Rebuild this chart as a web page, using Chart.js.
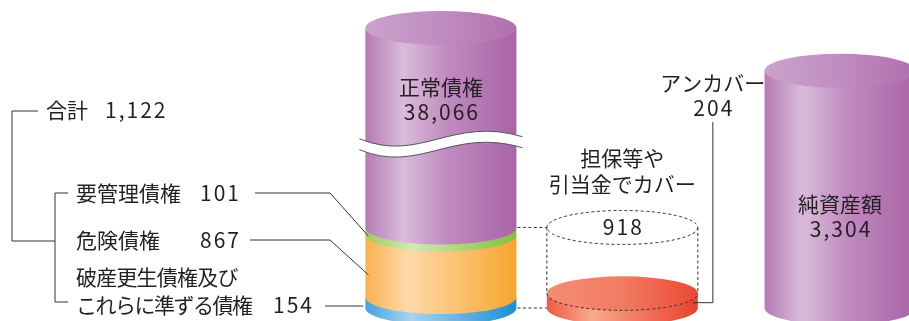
<!DOCTYPE html>
<html lang="ja">
<head>
<meta charset="utf-8">
<script src="https://cdn.jsdelivr.net/npm/chart.js@4.4.1/dist/chart.umd.min.js"></script>
<style>
  html, body { margin: 0; padding: 0; background: #fff; }
  #wrap { width: 909px; height: 321px; }
</style>
</head>
<body>
<div id="wrap"><canvas id="myChart"></canvas></div>
<script>
// 債権の区分（下から積み上げ）
const loanLabels = ['破産更生債権及び\nこれらに準ずる債権', '危険債権', '要管理債権', '正常債権']
const loanValues = [154, 867, 101, 38066]
// 問題債権のカバー状況（下から）
const coverLabels = ['アンカバー', '担保等や\n引当金でカバー']
const coverValues = [204, 918]
// 純資産
const netLabels = ['純資産額']
const netValues = [3304]
const totalLabel = '合計'

// layout
const colX = [0, 5, 11]     // column positions on the x scale
const yMax = 3900           // top of the shown range, the big bar is cut with a break
const RY = 17               // ellipse half height of the cylinders
const FONT = '"Noto Sans CJK JP", "Noto Sans", sans-serif'
const fmt = v => v.toLocaleString('en-US')

const looks = {
  blue:   { body: [[0, '#45a2dc'], [0.3, '#aad3f0'], [1, '#1890d2']] },
  orange: { body: [[0, '#f9b24f'], [0.28, '#fdd9aa'], [0.6, '#fbc373'], [1, '#f6a52e']] },
  green:  { body: [[0, '#9ccc5a'], [0.3, '#d4e8b4'], [1, '#84c13a']] },
  purple: { body: [[0, '#b67ab5'], [0.25, '#d9bcd9'], [0.55, '#c08ac0'], [1, '#a964a7']],
            cap:  [[0, '#caa3ca'], [0.5, '#c08cc0'], [1, '#b070ae']] },
  red:    { body: [[0, '#ee5a44'], [0.3, '#f8a98f'], [0.6, '#f27a62'], [1, '#e8412f']],
            cap:  [[0, '#f48d74'], [0.5, '#f27b62'], [1, '#ec4835']] }
}

const otherLoans = loanValues.slice(0, 3).reduce((a, b) => a + b, 0)
const shownLoan = (v, i) => i === loanValues.length - 1 ? Math.min(v, yMax - otherLoans) : v
const loanLooks = ['blue', 'orange', 'green', 'purple']

const datasets = []
loanValues.forEach((v, i) => datasets.push({
  label: loanLabels[i], data: [{ x: colX[0], y: shownLoan(v, i) }],
  look: loanLooks[i], cap: i === loanValues.length - 1, broken: i === loanValues.length - 1
}))
coverValues.forEach((v, i) => datasets.push({
  label: coverLabels[i], data: [{ x: colX[1], y: v }],
  look: i === 0 ? 'red' : 'dashed', cap: i === 0
}))
netValues.forEach((v, i) => datasets.push({
  label: netLabels[i], data: [{ x: colX[2], y: v }], look: 'purple', cap: true
}))

function grad(ctx, l, r, stops) {
  const g = ctx.createLinearGradient(l, 0, r, 0)
  stops.forEach(s => g.addColorStop(s[0], s[1]))
  return g
}

function drawBody(ctx, b, stops) {
  const l = b.x - b.width / 2, r = b.x + b.width / 2
  ctx.beginPath()
  ctx.moveTo(l, b.y)
  ctx.lineTo(l, b.base)
  ctx.ellipse(b.x, b.base, b.width / 2, RY, 0, Math.PI, 0, true)
  ctx.lineTo(r, b.y)
  ctx.closePath()
  ctx.fillStyle = grad(ctx, l, r, stops)
  ctx.fill()
}

function drawCap(ctx, b, stops) {
  const l = b.x - b.width / 2, r = b.x + b.width / 2
  ctx.beginPath()
  ctx.ellipse(b.x, b.y, b.width / 2, RY, 0, 0, Math.PI * 2)
  ctx.fillStyle = grad(ctx, l, r, stops)
  ctx.fill()
}

function drawDashed(ctx, b) {
  const l = b.x - b.width / 2, r = b.x + b.width / 2
  ctx.save()
  ctx.setLineDash([3, 2.5])
  ctx.strokeStyle = '#333'
  ctx.lineWidth = 1
  ctx.beginPath()
  ctx.ellipse(b.x, b.y, b.width / 2, RY, 0, 0, Math.PI * 2)
  ctx.stroke()
  ctx.beginPath()
  ctx.moveTo(l, b.y); ctx.lineTo(l, b.base)
  ctx.moveTo(r, b.y); ctx.lineTo(r, b.base)
  ctx.stroke()
  ctx.beginPath()
  ctx.ellipse(b.x, b.base, b.width / 2, RY, 0, Math.PI, 0, true)
  ctx.stroke()
  ctx.restore()
}

function drawBreak(ctx, b) {
  const l = b.x - b.width / 2 - 6, r = b.x + b.width / 2 + 6
  const c = b.y + (b.base - b.y) * 0.57
  const h = 11
  ctx.beginPath()
  ctx.moveTo(l, c - 3)
  ctx.bezierCurveTo(l + 60, c + 22, r - 70, c - 26, r, c - 5)
  ctx.lineTo(r, c - 5 + h)
  ctx.bezierCurveTo(r - 70, c - 26 + h, l + 60, c + 22 + h, l, c - 3 + h)
  ctx.closePath()
  ctx.fillStyle = '#fff'
  ctx.fill()
  ctx.strokeStyle = '#555'
  ctx.lineWidth = 1
  ctx.beginPath()
  ctx.moveTo(l, c - 3)
  ctx.bezierCurveTo(l + 60, c + 22, r - 70, c - 26, r, c - 5)
  ctx.moveTo(l, c - 3 + h)
  ctx.bezierCurveTo(l + 60, c + 22 + h, r - 70, c - 26 + h, r, c - 5 + h)
  ctx.stroke()
}

function poly(ctx, pts) {
  ctx.beginPath()
  ctx.moveTo(pts[0][0], pts[0][1])
  pts.slice(1).forEach(p => ctx.lineTo(p[0], p[1]))
  ctx.stroke()
}

function spaced(ctx, txt, x, y, sp) {
  ctx.letterSpacing = sp
  ctx.fillText(txt, x, y)
  ctx.letterSpacing = '0px'
}
const num = (ctx, txt, x, y) => spaced(ctx, txt, x, y, '2px')

const cylinders = {
  id: 'cylinders',
  afterDatasetsDraw(chart) {
    const ctx = chart.ctx
    const bars = chart.data.datasets.map((ds, i) =>
      chart.getDatasetMeta(i).data[0].getProps(['x', 'y', 'base', 'width'], true))
    ctx.save()
    chart.data.datasets.forEach((ds, i) => {
      const b = bars[i]
      if (ds.look === 'dashed') { drawDashed(ctx, b); return }
      drawBody(ctx, b, looks[ds.look].body)
      if (ds.cap) drawCap(ctx, b, looks[ds.look].cap)
      if (ds.broken) drawBreak(ctx, b)
    })

    const bBlue = bars[0], bOrange = bars[1], bGreen = bars[2], bTop = bars[3]
    const bRed = bars[4], bCover = bars[5], bNet = bars[6]
    const l0 = bTop.x - bTop.width / 2, r0 = bTop.x + bTop.width / 2
    const l1 = bCover.x - bCover.width / 2, r1 = bCover.x + bCover.width / 2

    // dashed links from the problem loans to the cover cylinder
    ctx.save()
    ctx.setLineDash([3, 2.5])
    ctx.strokeStyle = '#333'
    ctx.lineWidth = 1
    poly(ctx, [[r0 + 1, bGreen.y], [l1, bGreen.y]])
    poly(ctx, [[r0 + 1, bBlue.base], [l1, bBlue.base]])
    ctx.restore()

    // leader lines
    ctx.strokeStyle = '#333'
    ctx.lineWidth = 1
    poly(ctx, [[255, 193], [330, 193], [l0 + 3, (bGreen.y + bGreen.base) / 2 + 5]])
    poly(ctx, [[250, 240], [330, 240], [l0 + 3, (bOrange.y + bOrange.base) / 2 + 9]])
    poly(ctx, [[325, 306], [l0 - 2, 306]])
    // brackets
    poly(ctx, [[38, 111], [12, 111], [12, 241], [55, 241]])
    poly(ctx, [[68, 193], [55, 193], [55, 302], [68, 302]])
    // uncovered pointer
    const xr = r1 + 15
    poly(ctx, [[r1 - 5, (bRed.y + bRed.base) / 2 + 2], [xr, (bRed.y + bRed.base) / 2 + 2], [xr, 122]])

    // texts
    ctx.fillStyle = '#231f20'
    ctx.font = '21px ' + FONT
    ctx.textBaseline = 'middle'
    ctx.textAlign = 'center'
    const shownTop = loanValues[loanValues.length - 1]
    ctx.fillText(loanLabels[3], bTop.x, 87)
    num(ctx, fmt(shownTop), bTop.x + 1, 112)
    const coverLines = coverLabels[1].split('\n')
    ctx.fillText(coverLines[0], bCover.x, 158)
    ctx.fillText(coverLines[1], bCover.x, 184)
    num(ctx, fmt(coverValues[1]), bCover.x + 1, bCover.y)
    ctx.fillText(coverLabels[0], xr, 83)
    num(ctx, fmt(coverValues[0]), xr + 1, 108)
    ctx.fillText(netLabels[0], bNet.x, 204)
    num(ctx, fmt(netValues[0]), bNet.x + 1, 229)

    ctx.textAlign = 'left'
    const total = loanValues.slice(0, 3).reduce((a, b) => a + b, 0)
    ctx.fillText(totalLabel, 46, 110)
    num(ctx, fmt(total), 105, 110)
    ctx.fillText(loanLabels[2], 76, 193)
    ctx.fillText(loanLabels[1], 76, 240)
    const badLines = loanLabels[0].split('\n')
    spaced(ctx, badLines[0], 76, 277, '-0.8px')
    spaced(ctx, badLines[1], 76, 305, '-1.5px')
    num(ctx, fmt(loanValues[0]), 273, 305)
    ctx.textAlign = 'right'
    num(ctx, fmt(loanValues[2]), 241, 193)
    num(ctx, fmt(loanValues[1]), 241, 240)
    ctx.restore()
  }
}

var ctx = document.getElementById('myChart').getContext('2d')
var myChart = new Chart(ctx, {
  type: 'bar',
  data: { datasets: datasets.map(d => Object.assign(d, {
    backgroundColor: 'rgba(0,0,0,0)', borderWidth: 0, barThickness: 151, grouped: false
  })) },
  options: {
    responsive: true,
    maintainAspectRatio: false,
    animation: false,
    layout: { padding: { top: 28, bottom: 13, left: 0, right: 0 } },
    plugins: { legend: { display: false }, tooltip: { enabled: false } },
    scales: {
      x: { type: 'linear', min: -12.15, max: 12.9, offset: false, stacked: true, display: false },
      y: { min: 0, max: yMax, stacked: true, display: false }
    }
  },
  plugins: [cylinders]
})
</script>
</body>
</html>
